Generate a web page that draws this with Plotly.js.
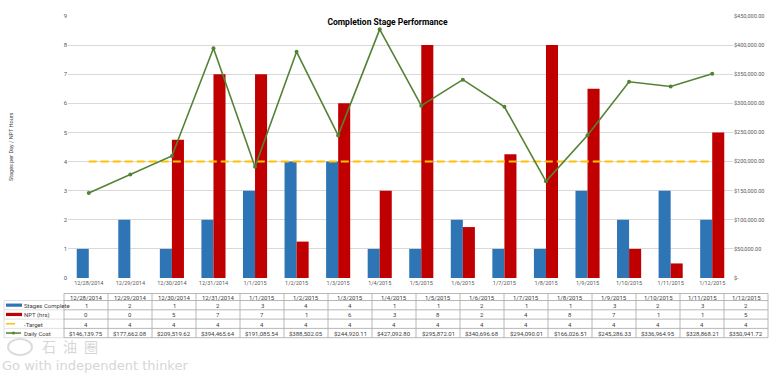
<!DOCTYPE html>
<html>
<head>
<meta charset="utf-8">
<script src="https://cdn.plot.ly/plotly-3.0.1.min.js"></script>
<style>html,body{margin:0;padding:0;background:#fff;}#chart{width:775px;height:389px;}</style>
</head>
<body>
<div id="chart"></div>
<script>
const dates = ['12/28/2014','12/29/2014','12/30/2014','12/31/2014','1/1/2015','1/2/2015','1/3/2015','1/4/2015','1/5/2015','1/6/2015','1/7/2015','1/8/2015','1/9/2015','1/10/2015','1/11/2015','1/12/2015'];
const stagesComplete = [1,2,1,2,3,4,4,1,1,2,1,1,3,2,3,2];
const nptHours = [0,0,4.75,7,7,1.25,6,3,8,1.75,4.25,8,6.5,1,0.5,5];
const targetValues = [4,4,4,4,4,4,4,4,4,4,4,4,4,4,4,4];
const dailyCost = [146139.75,177662.08,209519.62,394465.64,191085.54,388502.05,244920.11,427092.80,295872.01,340696.68,294090.01,166026.51,245286.33,336964.95,328868.21,350941.72];
const seriesNames = ['Stages Complete','NPT (hrs)','-Target','Daily Cost'];
const leftTicks = [0,1,2,3,4,5,6,7,8,9];
const costTicks = [0,50000,100000,150000,200000,250000,300000,350000,400000,450000];
const chartTitle = 'Completion Stage Performance';
const yTitle = 'Stages per Day / NPT Hours';
const watermarkCn = '石\u2002油\u2002圈';
const watermarkEn = 'Go with independent thinker';

const W = 775, H = 389;
const px = x => x / W;
const py = y => 1 - y / H;

const BLUE = '#2e75b6', RED = '#c00000', GOLD = '#ffc000', GREEN = '#548235';
const FONT = 'Roboto, "Liberation Sans", Arial, sans-serif';
const TXT = '#404040';

function money(v) {
  if (v === 0) return '$-';
  return '$' + v.toLocaleString('en-US', {minimumFractionDigits: 2, maximumFractionDigits: 2});
}

const traces = [
  {type: 'bar', name: seriesNames[0], x: dates, y: stagesComplete, marker: {color: BLUE}, hoverinfo: 'none'},
  {type: 'bar', name: seriesNames[1], x: dates, y: nptHours, marker: {color: RED}, hoverinfo: 'none'},
  {type: 'scatter', mode: 'lines', name: seriesNames[2], x: dates, y: targetValues,
   line: {color: GOLD, width: 2, dash: '8px,4px'}, hoverinfo: 'none'},
  {type: 'scatter', mode: 'lines+markers', name: seriesNames[3], x: dates, y: dailyCost, yaxis: 'y2',
   line: {color: GREEN, width: 1.6}, marker: {color: GREEN, size: 4}, hoverinfo: 'none'}
];

// ---- data table drawn under the chart (shapes + text) ----
const tblLeft = 64, colW = 44, labelLeft = 4;
const tblRight = tblLeft + colW * dates.length;
const headTop = 293.5, headBot = 300.5, rowH = 9.3;
const nRows = seriesNames.length;
const tblBot = headBot + rowH * nRows;
const LINE = '#a6a6a6';

const shapes = [];
const annotations = [];
function hline(x0, x1, y, color) {
  shapes.push({type: 'line', xref: 'paper', yref: 'paper', x0: px(x0), x1: px(x1), y0: py(y), y1: py(y), line: {color: color, width: 0.8}});
}
function vline(x, y0, y1, color) {
  shapes.push({type: 'line', xref: 'paper', yref: 'paper', x0: px(x), x1: px(x), y0: py(y0), y1: py(y1), line: {color: color, width: 0.8}});
}
function txt(text, x, y, anchor, opts) {
  annotations.push(Object.assign({text: text, xref: 'paper', yref: 'paper', x: px(x), y: py(y), xanchor: anchor, yanchor: 'middle',
    showarrow: false, font: {family: FONT, size: 6, color: TXT}}, opts || {}));
}

hline(tblLeft, tblRight, headTop, LINE);
for (let r = 0; r <= nRows; r++) {
  const y = headBot + rowH * r;
  hline(labelLeft, tblLeft, y, '#d9d9d9');
  hline(tblLeft, tblRight, y, LINE);
}
vline(labelLeft, headBot, tblBot, '#d9d9d9');
for (let c = 0; c <= dates.length; c++) {
  vline(tblLeft + colW * c, headTop, tblBot, LINE);
}

const tableRows = [
  stagesComplete.map(String),
  nptHours.map(v => String(Math.round(v))),
  targetValues.map(String),
  dailyCost.map(money)
];
dates.forEach((d, c) => {
  const cx = tblLeft + colW * (c + 0.5);
  txt(d, cx, (headTop + headBot) / 2 + 0.3, 'center');
  tableRows.forEach((row, r) => txt(row[c], cx, headBot + rowH * (r + 0.5) + 0.3, 'center'));
});
seriesNames.forEach((s, r) => txt(s, 22, headBot + rowH * (r + 0.5) + 0.3, 'left'));

// legend swatches in the label column
const rc = seriesNames.map((s, r) => headBot + rowH * (r + 0.5));
shapes.push(
  {type: 'rect', xref: 'paper', yref: 'paper', x0: px(6), x1: px(22), y0: py(rc[0] + 1.6), y1: py(rc[0] - 1.6), fillcolor: BLUE, line: {width: 0}},
  {type: 'rect', xref: 'paper', yref: 'paper', x0: px(6), x1: px(22), y0: py(rc[1] + 1.6), y1: py(rc[1] - 1.6), fillcolor: RED, line: {width: 0}},
  {type: 'line', xref: 'paper', yref: 'paper', x0: px(6), x1: px(15), y0: py(rc[2]), y1: py(rc[2]), line: {color: GOLD, width: 1.5}},
  {type: 'line', xref: 'paper', yref: 'paper', x0: px(6), x1: px(21), y0: py(rc[3]), y1: py(rc[3]), line: {color: GREEN, width: 1.5}},
  {type: 'circle', xref: 'paper', yref: 'paper', x0: px(12), x1: px(15), y0: py(rc[3] + 1.5), y1: py(rc[3] - 1.5), fillcolor: GREEN, line: {width: 0}},
  // watermark logo ring
  {type: 'circle', xref: 'paper', yref: 'paper', x0: px(8), x1: px(32), y0: py(355), y1: py(339), line: {color: '#dcdcdc', width: 2}}
);

// axis title and watermark
txt(yTitle, 11, 147, 'center', {textangle: -90, font: {family: FONT, size: 5.5, color: TXT}});
txt(watermarkCn, 40, 345.5, 'left', {font: {family: '"Noto Sans CJK SC", sans-serif', size: 14, color: '#d6d6d6'}});
txt(watermarkEn, 0, 365, 'left', {font: {family: '"DejaVu Sans", sans-serif', size: 13, color: '#d6d6d6'}});

const layout = {
  width: W, height: H,
  margin: {l: 0, r: 0, t: 0, b: 0},
  paper_bgcolor: '#ffffff', plot_bgcolor: '#ffffff',
  showlegend: false,
  barmode: 'group', bargap: 0.42, bargroupgap: 0,
  font: {family: FONT, color: '#595959'},
  title: {text: '<b>' + chartTitle + '</b>', x: 0.5, xref: 'paper', xanchor: 'center', y: py(22), yanchor: 'middle',
          font: {family: FONT, size: 8.5, color: '#000000'}},
  xaxis: {domain: [px(68), px(733)], type: 'category', range: [-0.5, dates.length - 0.5], showgrid: false, zeroline: false, showline: false,
          ticks: '', tickfont: {size: 5.5, color: '#595959'}, tickangle: 0, fixedrange: true},
  yaxis: {domain: [py(278), py(16)], range: [0, 9], tickvals: leftTicks, showgrid: true, gridcolor: '#d9d9d9', gridwidth: 1,
          zeroline: false, showline: false, ticks: '', tickfont: {size: 6, color: '#595959'}, fixedrange: true},
  yaxis2: {overlaying: 'y', side: 'right', range: [0, 450000], tickvals: costTicks, ticktext: costTicks.map(money),
           showgrid: false, zeroline: false, showline: false, ticks: '', tickfont: {size: 5.5, color: '#595959'}, fixedrange: true},
  shapes: shapes,
  annotations: annotations
};

Plotly.newPlot('chart', traces, layout, {displayModeBar: false, staticPlot: true});
</script>
</body>
</html>
